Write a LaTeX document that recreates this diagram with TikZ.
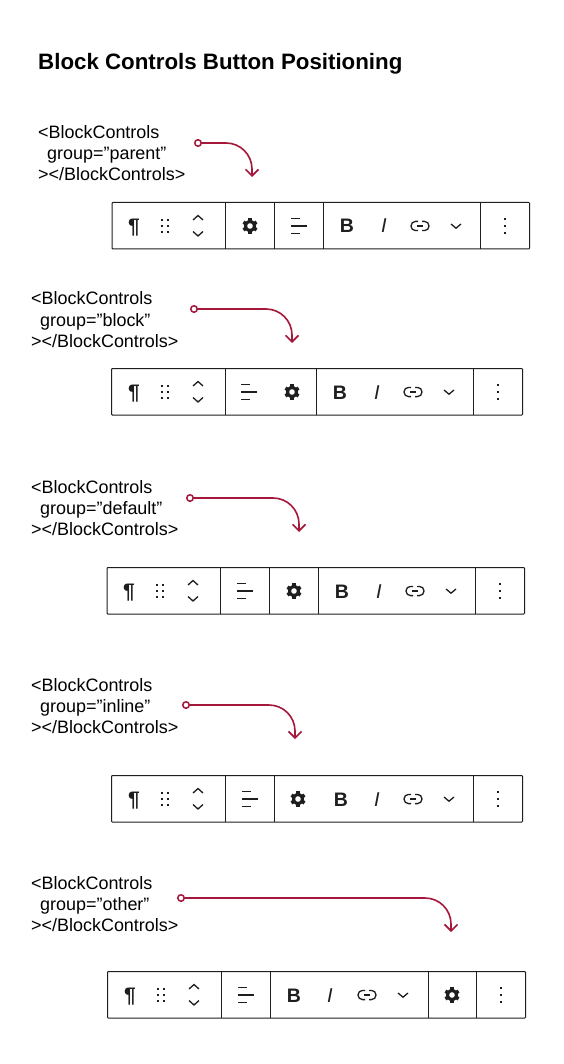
\documentclass[tikz,border=0pt]{standalone}
\usepackage{fontspec}
\setmainfont{Liberation Sans}
\usetikzlibrary{arrows.meta}
\definecolor{crim}{HTML}{A6173C}
\definecolor{ink}{HTML}{1E1E1E}
\tikzset{
  x=1pt,y=-1pt,
  bar/.style={draw=ink,line width=1pt,rounded corners=0.8pt},
  sepline/.style={draw=ink,line width=1pt},
  conn/.style={draw=crim,line width=1.6pt,rounded corners=26pt,-{Straight Barb[length=6.5pt,width=13pt,line width=1.6pt]}},
  startdot/.style={circle,draw=crim,fill=white,line width=1.5pt,inner sep=0pt,minimum size=6.5pt},
  code/.style={anchor=base west,inner sep=0pt,font=\fontsize{17.95}{21}\selectfont,text=black,align=left},
  glyph/.style={inner sep=0pt,text=ink,anchor=base},
  iconline/.style={draw=ink,line width=1.3pt},
  pics/dots/.style={code={\foreach \i in {-3,3}\foreach \j in {-6.2,0,6.2}\fill[ink] (\i-1,\j-1) rectangle (\i+1,\j+1);}},
  pics/updown/.style={code={
    \draw[iconline] (-5,-6) -- (0,-10.5) -- (5,-6);
    \draw[iconline] (-5,5.5) -- (0,10) -- (5,5.5);}},
  pics/alignicon/.style={code={
    \draw[iconline] (-8,-7.5) -- (1,-7.5);
    \draw[iconline] (-8,0) -- (8,0);
    \draw[iconline] (-8,7.5) -- (1,7.5);}},
  pics/gear/.style={code={
    \fill[ink] (0,0) circle (6);
    \foreach \a in {30,90,150} \draw[ink,line width=3.6pt] (\a:7.6) -- (\a+180:7.6);
    \fill[white] (0,0) circle (2.8);}},
  pics/linkicon/.style={code={
    \draw[iconline,rounded corners=4.5pt] (-2,-4.6) -- (-9,-4.6) -- (-9,4.6) -- (-2,4.6);
    \draw[iconline,rounded corners=4.5pt] (2,-4.6) -- (9,-4.6) -- (9,4.6) -- (2,4.6);
    \draw[iconline] (-2.8,0) -- (2.8,0);}},
  pics/downchev/.style={code={\draw[iconline] (-5,-2) -- (0,2.2) -- (5,-2);}},
  pics/vdots/.style={code={\foreach \j in {-7,0,7}\fill[ink] (-1,\j-1) rectangle (1,\j+1);}},
}
\newcommand{\barframe}[5]{%
  \draw[bar] (#3,#2) rectangle (#4,#2+46.5);
  \foreach \s in {#5} \draw[sepline] (\s,#2) -- (\s,#2+46.5);
}
\newcommand{\lefticons}[4]{%
  \node[glyph,font=\bfseries\fontsize{21}{21}\selectfont] at (#2,#1+31) {¶};
  \pic at (#3,#1+23.5) {dots};
  \pic at (#4,#1+23.5) {updown};
}
\newcommand{\righticons}[6]{%
  \node[glyph,font=\bfseries\fontsize{19.5}{20}\selectfont] at (#2,#1+30.5) {B};
  \node[glyph,font=\itshape\fontsize{20}{20}\selectfont] at (#3,#1+30.5) {I};
  \pic at (#4,#1+23.5) {linkicon};
  \pic at (#5,#1+23.5) {downchev};
  \pic at (#6,#1+23.5) {vdots};
}
\begin{document}
\begin{tikzpicture}
\useasboundingbox (0,0) rectangle (564,1064);
\fill[white] (0,0) rectangle (564,1064);
\node[anchor=base west,inner sep=0pt,font=\bfseries\fontsize{22.3}{28}\selectfont,text=black] (title) at (38,70) {Block Controls Button Positioning};

% parent
\node[code] (t1a) at (38,139) {<BlockControls};
\node[code] (t1b) at (47,160) {group=”parent”};
\node[code] (t1c) at (38,181) {></BlockControls>};
\node[startdot] (s1) at (198,143) {};
\coordinate (e1) at (252,177);
\draw[conn] (s1.east) -| (e1);
\barframe{1}{202.5}{112}{529.5}{225.5,274.5,323.5,480.5}
\lefticons{202.5}{134}{165}{198}
\pic at (250,226) {gear};
\pic at (299,226) {alignicon};
\righticons{202.5}{347}{384}{420}{456}{505}

% block
\node[code] (t2a) at (31,305) {<BlockControls};
\node[code] (t2b) at (40,326) {group=”block”};
\node[code] (t2c) at (31,347) {></BlockControls>};
\node[startdot] (s2) at (194,309) {};
\coordinate (e2) at (292,343);
\draw[conn] (s2.east) -| (e2);
\barframe{2}{368.5}{111.5}{522.5}{225.5,316.5,473.5}
\lefticons{368.5}{134}{165}{198}
\pic at (249,392) {alignicon};
\pic at (292,392) {gear};
\righticons{368.5}{340}{377}{413}{449}{498}

% default
\node[code] (t3a) at (31,493) {<BlockControls};
\node[code] (t3b) at (40,514) {group=”default”};
\node[code] (t3c) at (31,535) {></BlockControls>};
\node[startdot] (s3) at (190,498) {};
\coordinate (e3) at (299,532);
\draw[conn] (s3.east) -| (e3);
\barframe{3}{567.5}{107}{524.5}{220.5,269.5,318.5,475.5}
\lefticons{567.5}{129}{160}{193}
\pic at (245,591) {alignicon};
\pic at (294,591) {gear};
\righticons{567.5}{342}{379}{415}{451}{500}

% inline
\node[code] (t4a) at (31,691) {<BlockControls};
\node[code] (t4b) at (40,712) {group=”inline”};
\node[code] (t4c) at (31,733) {></BlockControls>};
\node[startdot] (s4) at (186,705) {};
\coordinate (e4) at (295,739);
\draw[conn] (s4.east) -| (e4);
\barframe{4}{775.5}{111.5}{522.5}{225.5,274.5,473.5}
\lefticons{775.5}{134}{165}{198}
\pic at (250,799) {alignicon};
\pic at (298,799) {gear};
\righticons{775.5}{341}{377}{413}{449}{498}

% other
\node[code] (t5a) at (31,889) {<BlockControls};
\node[code] (t5b) at (40,910) {group=”other”};
\node[code] (t5c) at (31,931) {></BlockControls>};
\node[startdot] (s5) at (181,898) {};
\coordinate (e5) at (451,932);
\draw[conn] (s5.east) -| (e5);
\barframe{5}{971.5}{107.5}{525.5}{221.5,270.5,428,476.5}
\lefticons{971.5}{130}{161}{194}
\pic at (246,995) {alignicon};
\pic at (452,995) {gear};
\righticons{971.5}{294}{330}{367}{403}{501}
\end{tikzpicture}
\end{document}
